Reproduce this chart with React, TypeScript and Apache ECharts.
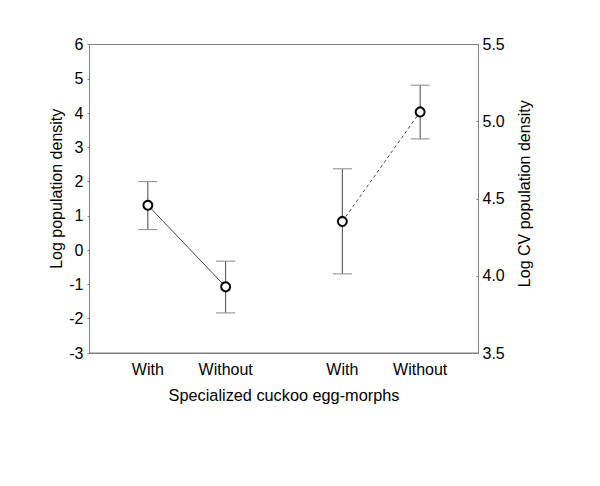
import React, { useEffect, useRef } from "react";
import * as echarts from "echarts";

const xPositions = [1.5, 3.5, 6.5, 8.5];
const xLabels = ["With", "Without", "With", "Without"];

// Left axis: Log population density
const leftX = [1.5, 3.5];
const leftMean = [1.31, -1.07];
const leftLow = [0.6, -1.83];
const leftHigh = [2.0, -0.32];

// Right axis: Log CV population density
const rightX = [6.5, 8.5];
const rightMean = [4.353, 5.063];
const rightLow = [4.013, 4.888];
const rightHigh = [4.694, 5.236];

const FONT = "'Liberation Sans', Arial, sans-serif";

function errorItem(params: any, api: any) {
  const x = api.value(0);
  const lo = api.coord([x, api.value(1)]);
  const hi = api.coord([x, api.value(2)]);
  const hw = 9.5;
  return {
    type: "group",
    children: [
      { type: "line", shape: { x1: hi[0], y1: hi[1], x2: lo[0], y2: lo[1] }, style: { stroke: "#444", lineWidth: 1 } },
      { type: "line", shape: { x1: hi[0] - hw, y1: hi[1], x2: hi[0] + hw, y2: hi[1] }, style: { stroke: "#888", lineWidth: 1 } },
      { type: "line", shape: { x1: lo[0] - hw, y1: lo[1], x2: lo[0] + hw, y2: lo[1] }, style: { stroke: "#888", lineWidth: 1 } },
    ],
  };
}

export default function App() {
  const ref = useRef<HTMLDivElement>(null);
  useEffect(() => {
    document.body.style.margin = "0";
    const chart = echarts.init(ref.current!, null, { renderer: "svg" });
    const axisLineColor = "#808080";
    chart.setOption({
      animation: false,
      textStyle: { fontFamily: FONT },
      grid: {
        left: 89.5,
        right: 121.5,
        top: 44.5,
        bottom: 133,
        show: true,
        borderColor: axisLineColor,
        borderWidth: 1,
        backgroundColor: "transparent",
      },
      xAxis: {
        type: "value",
        min: 0,
        max: 10,
        name: "Specialized cuckoo egg-morphs",
        nameLocation: "middle",
        nameGap: 34,
        nameTextStyle: { fontSize: 16.3, color: "#000", fontFamily: FONT },
        axisLine: { show: true, onZero: false, lineStyle: { color: axisLineColor } },
        axisTick: { show: false },
        splitLine: { show: false },
        axisLabel: {
          customValues: xPositions,
          formatter: (v: number) => {
            const i = xPositions.findIndex((p) => Math.abs(p - v) < 1e-6);
            return i >= 0 ? xLabels[i] : "";
          },
          fontSize: 16,
          color: "#000",
          margin: 8,
          fontFamily: FONT,
        },
      },
      yAxis: [
        {
          type: "value",
          min: -3,
          max: 6,
          interval: 1,
          position: "left",
          name: "Log population density",
          nameLocation: "middle",
          nameGap: 25,
          nameMoveOverlap: false,
          nameRotate: 90,
          nameTextStyle: { fontSize: 16, color: "#000", fontFamily: FONT, padding: [0, 0, 0, 20] },
          axisLine: { show: true, onZero: false, lineStyle: { color: axisLineColor } },
          axisTick: { show: true, length: 2, lineStyle: { color: axisLineColor } },
          splitLine: { show: false },
          axisLabel: { fontSize: 16, color: "#000", margin: 6, fontFamily: FONT },
        },
        {
          type: "value",
          min: 3.5,
          max: 5.5,
          interval: 0.5,
          position: "right",
          name: "Log CV population density",
          nameLocation: "middle",
          nameGap: 38,
          nameRotate: 90,
          nameTextStyle: { fontSize: 16, color: "#000", fontFamily: FONT, padding: [0, 0, 0, 10] },
          axisLine: { show: true, onZero: false, lineStyle: { color: axisLineColor } },
          axisTick: { show: true, inside: true, length: 2, lineStyle: { color: axisLineColor } },
          splitLine: { show: false },
          axisLabel: {
            fontSize: 16,
            color: "#000",
            margin: 4,
            fontFamily: FONT,
            formatter: (v: number) => v.toFixed(1),
          },
        },
      ],
      series: [
        {
          type: "custom",
          yAxisIndex: 0,
          renderItem: errorItem,
          data: leftX.map((x, i) => [x, leftLow[i], leftHigh[i]]),
          z: 1,
        },
        {
          type: "custom",
          yAxisIndex: 1,
          renderItem: errorItem,
          data: rightX.map((x, i) => [x, rightLow[i], rightHigh[i]]),
          z: 1,
        },
        {
          type: "line",
          yAxisIndex: 0,
          data: leftX.map((x, i) => [x, leftMean[i]]),
          symbol: "circle",
          symbolSize: 9,
          itemStyle: { color: "#fff", borderColor: "#000", borderWidth: 2 },
          lineStyle: { color: "#444", width: 1, type: "solid" },
          z: 3,
        },
        {
          type: "line",
          yAxisIndex: 1,
          data: rightX.map((x, i) => [x, rightMean[i]]),
          symbol: "circle",
          symbolSize: 9,
          itemStyle: { color: "#fff", borderColor: "#000", borderWidth: 2 },
          lineStyle: { color: "#444", width: 1, type: [3, 3] },
          z: 3,
        },
      ],
    });
    return () => chart.dispose();
  }, []);
  return <div ref={ref} style={{ width: 600, height: 486 }} />;
}
